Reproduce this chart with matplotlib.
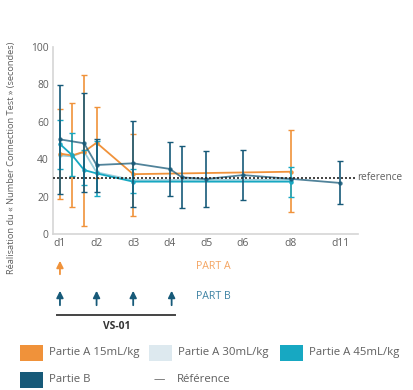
"""Number Connection Test chart: Partie A / Partie B with VS-01 dosing."""

import matplotlib.pyplot as plt
import numpy as np
from matplotlib.patches import Rectangle

plt.rcParams["font.family"] = ["Open Sans", "DejaVu Sans"]

# x positions on the axis (d1 = 0, one unit per day up to d6, then compressed)
TICK_POS = [0, 1, 2, 3, 4, 5, 6.3, 7.65]
TICK_LABELS = ["d1", "d2", "d3", "d4", "d5", "d6", "d8", "d11"]

# Partie A 15 mL/kg
a15_x = [0, 0.33, 0.66, 1, 2, 6.3]
a15_mean = [43, 42, 44, 48.8, 32, 33.3]
a15_hi = [66.8, 70.2, 85, 68, 53.6, 55.6]
a15_lo = [18.7, 14.6, 4.5, 30, 9.8, 12]

# Partie A 30 mL/kg
a30_x = [0, 0.33, 0.66, 1, 2, 6.3]
a30_mean = [42, 41.5, 44, 33, 28.8, 29]

# Partie A 45 mL/kg
a45_x = [0, 0.33, 0.66, 1, 2, 6.3]
a45_mean = [48.1, 42.2, 34.2, 32.4, 28, 28]
a45_hi = [61, 54.2, 45, 50, 35, 36]
a45_lo = [35, 31, 26, 20.3, 22, 20]

# Partie B
b_x = [0, 0.66, 1, 2, 3, 3.33, 4, 5, 6.3, 7.65]
b_mean = [50.6, 48.5, 36.9, 37.8, 34.8, 30.3, 29.4, 31.5, 29.5, 27.3]
b_hi = [79.7, 75.2, 50.8, 60.4, 49, 47.2, 44.5, 45, np.nan, 39]
b_lo = [21.4, 22.3, 22.6, 14.6, 20.5, 14, 14.6, 18.2, np.nan, 16]

REFERENCE = 30

# dosing arrows
part_a_doses = [0]
part_b_doses = [0, 1, 2, 3.05]

LEGEND_LABELS = ["Partie A 15mL/kg", "Partie A 30mL/kg", "Partie A 45mL/kg", "Partie B"]

ORANGE = "#f0923a"
LIGHT = "#dde9ef"
LIGHT_LINE = "#9ccfdd"
CYAN = "#17a8c2"
DARK = "#175a79"
TEXT = "#5f5f5f"

fig = plt.figure(figsize=(4.13, 3.9), dpi=100, facecolor="white")
W, H = 413, 390


def fig_box(x0, y0, x1, y1):
    """pixel box (top-left origin) -> figure fraction rect"""
    return [x0 / W, 1 - y1 / H, (x1 - x0) / W, (y1 - y0) / H]


ax = fig.add_axes(fig_box(53, 47, 358, 234))
xlim = (-0.19, 8.14)


def draw_series(x, mean, hi, lo, color, line_alpha=1.0, z=3):
    x = np.asarray(x, dtype=float)
    mean = np.asarray(mean, dtype=float)
    ax.plot(x, mean, color=color, lw=1.3, alpha=line_alpha, marker="o", ms=2.2, zorder=z)
    if hi is not None:
        hi = np.asarray(hi, dtype=float)
        lo = np.asarray(lo, dtype=float)
        ok = ~np.isnan(hi)
        ax.errorbar(x[ok], mean[ok], yerr=[mean[ok] - lo[ok], hi[ok] - mean[ok]],
                    fmt="none", ecolor=color, elinewidth=1.2, capsize=2, capthick=1.0, zorder=z)


draw_series(a15_x, a15_mean, a15_hi, a15_lo, ORANGE, z=3)
draw_series(a30_x, a30_mean, None, None, LIGHT_LINE, z=2)
draw_series(a45_x, a45_mean, a45_hi, a45_lo, CYAN, z=4)
draw_series(b_x, b_mean, b_hi, b_lo, DARK, line_alpha=0.75, z=5)

ax.plot([xlim[0], 8.06], [REFERENCE, REFERENCE], color="#222222", lw=1.2,
        linestyle=(0, (1.2, 1.2)), zorder=6, clip_on=False)
ax.text(8.12, REFERENCE, "reference", color=TEXT, fontsize=7.2, va="center", ha="left")

ax.set_xlim(*xlim)
ax.set_ylim(0, 100)
ax.set_yticks([0, 20, 40, 60, 80, 100])
ax.set_xticks(TICK_POS)
ax.set_xticklabels(TICK_LABELS)
ax.tick_params(length=0, labelsize=7.4, labelcolor=TEXT, pad=3)
for side in ["top", "right"]:
    ax.spines[side].set_visible(False)
for side in ["left", "bottom"]:
    ax.spines[side].set_color("#d5d5d5")
    ax.spines[side].set_linewidth(1.2)

fig.text(12 / W, 1 - 158 / H, "Réalisation du « Number Connection Test » (secondes)",
         rotation=90, ha="center", va="center", fontsize=6.7, color=TEXT)

# dosing panel below the axis (y in pixel rows)
axd = fig.add_axes(fig_box(53, 250, 358, 340))
axd.set_xlim(*xlim)
axd.set_ylim(340, 250)
axd.axis("off")
for d in part_a_doses:
    axd.annotate("", xy=(d, 258), xytext=(d, 277),
                 arrowprops=dict(arrowstyle="-|>,head_width=0.2,head_length=0.4",
                                 color=ORANGE, lw=1.3))
for d in part_b_doses:
    axd.annotate("", xy=(d, 288), xytext=(d, 308),
                 arrowprops=dict(arrowstyle="-|>,head_width=0.2,head_length=0.4",
                                 color=DARK, lw=1.3))
axd.text(3.72, 266.5, "PART A", color="#f4a460", fontsize=7.6, va="center", ha="left")
axd.text(3.72, 297, "PART B", color="#3d82a3", fontsize=7.6, va="center", ha="left")
axd.plot([-0.08, 3.14], [315, 315], color="#444444", lw=1.4)
axd.text(1.55, 326.5, "VS-01", color="#333333", fontsize=7.4, fontweight="bold",
         ha="center", va="center")

# legend drawn manually
legend_items = [
    (LEGEND_LABELS[0], ORANGE, 20, 353),
    (LEGEND_LABELS[1], LIGHT, 149, 353),
    (LEGEND_LABELS[2], CYAN, 280, 353),
    (LEGEND_LABELS[3], DARK, 20, 380),
]
for label, color, px, py in legend_items:
    x0, y0, w, h = fig_box(px, py - 8, px + 23, py + 8)
    fig.patches.append(Rectangle((x0, y0), w, h, transform=fig.transFigure,
                                 facecolor=color, edgecolor="none"))
    fig.text((px + 29) / W, 1 - py / H, label, fontsize=8.2, color=TEXT,
             ha="left", va="center")
fig.text(159 / W, 1 - 380 / H, "—", fontsize=8.2, color=TEXT, ha="center", va="center")
fig.text(177 / W, 1 - 380 / H, "Référence", fontsize=8.2, color=TEXT, ha="left", va="center")

fig.savefig("out.png", dpi=100, facecolor="white")
